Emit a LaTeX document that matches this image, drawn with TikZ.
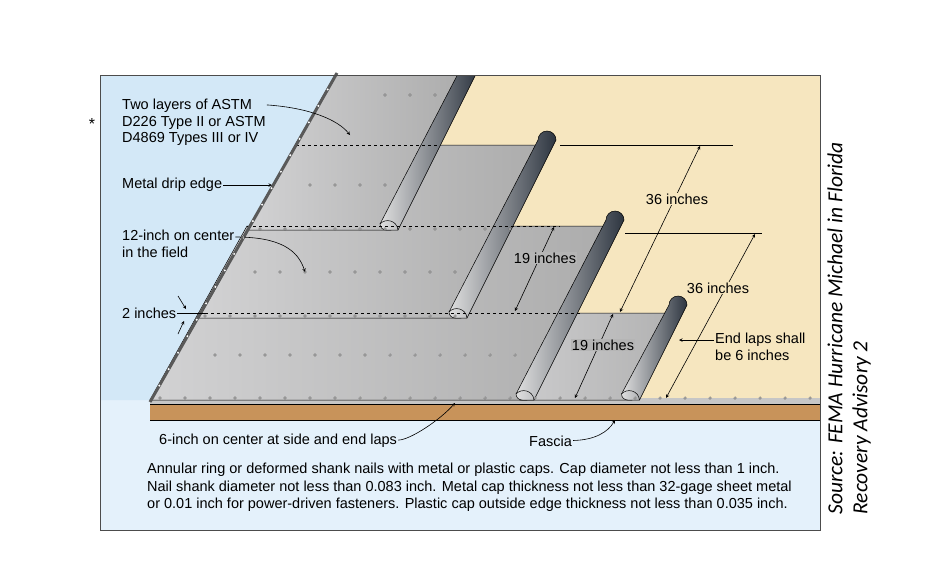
\documentclass[tikz,border=0pt]{standalone}
\usepackage{fontspec}
\setmainfont{Liberation Sans}
\newfontfamily\srcfont{Carlito}
\usetikzlibrary{positioning,calc}
\definecolor{skyblue}{HTML}{d3e8f7}
\definecolor{boxblue}{HTML}{e4f1fb}
\definecolor{deckbeige}{HTML}{f6e6bf}
\definecolor{fasciabrown}{HTML}{c8935a}
\definecolor{feltgray}{HTML}{b4b4b6}
\definecolor{rolldark}{HTML}{2d3540}
\tikzset{
  lbl/.style = {font = \fontsize{14.5}{16.5}\selectfont, inner sep = 1pt},
  dim/.style = {<->, > = stealth, line width = 0.6pt},
  pointer/.style = {->, > = stealth, line width = 0.6pt},
  nail/.style = {draw = gray!60!black, fill = gray!20, line width = 0.3pt}
}
% roll: top x, top y, bottom y (slope 0.5 to the left)
\newcommand{\feltroll}[3]{
  \pgfmathsetmacro{\bx}{#1 - 0.5*(#3 - #2)}
  \shade [left color = gray!25, right color = rolldark, draw = black, line width = 0.5pt]
    (#1 - 9, #2) -- (\bx - 9, #3 - 6) arc (180:90:6) -- (\bx + 9, #3) -- (#1 + 9, #2) arc (0:-180:9) -- cycle;
  \draw [line width = 0.5pt] (\bx - 9, #3 - 6) .. controls (\bx - 4, #3 - 12) and (\bx + 8, #3 - 10) .. (\bx + 9, #3);
}
\begin{document}
\begin{tikzpicture}[x = 1pt, y = -1pt]
  \useasboundingbox (0, 0) rectangle (952, 570);
  % Frame and background
  \fill [boxblue] (100, 75) rectangle (820, 530);
  \fill [skyblue] (100, 75) -- (335, 75) -- (150, 400) -- (100, 400) -- cycle;
  \fill [deckbeige] (335, 75) -- (820, 75) -- (820, 400) -- (150, 400) -- cycle;
  \fill [fasciabrown] (150, 403) rectangle (820, 420);
  \fill [gray!45] (150, 398) rectangle (820, 404);
  \draw [line width = 0.5pt] (150, 404) -- (820, 404) (150, 420) -- (820, 420);
  % Felt sheets, bottom one first
  \shade [left color = feltgray!70, right color = gray!60, draw = black, line width = 0.5pt]
    (540, 313) -- (672, 313) -- (632, 400) -- (520, 400) -- cycle;
  \feltroll{678}{305}{400}
  \shade [left color = feltgray!60, right color = gray!65, draw = black, line width = 0.5pt]
    (247, 226) -- (610, 226) -- (527, 400) -- (150, 400) -- cycle;
  \feltroll{615}{220}{400}
  \shade [left color = feltgray!60, right color = gray!65, draw = black, line width = 0.5pt]
    (296, 145) -- (541, 145) -- (461, 318) -- (199, 318) -- cycle;
  \feltroll{547}{140}{318}
  \shade [left color = feltgray!60, right color = gray!65, draw = black, line width = 0.5pt]
    (335, 75) -- (465, 75) -- (391, 230) -- (247, 230) -- cycle;
  \feltroll{470}{68}{230}
  \fill [white] (100, 40) rectangle (820, 75);
  % Dashed laps
  \draw [dashed, line width = 1pt] (296, 145) -- (440, 145);
  \draw [dashed, line width = 1pt] (247, 226) -- (560, 226);
  \draw [dashed, line width = 1pt] (199, 313) -- (580, 313);
  % Drip edge
  \draw [gray!70!black, line width = 3pt] (337, 73) -- (150, 402);
  \foreach \t in {0.05, 0.1, ..., 0.96}
    \fill [white] ($(337, 73)!\t!(150, 402)$) circle (1.1);
  % Nails
  \foreach \x in {385, 410, 435} \draw [nail] (\x, 95) circle (1.3);
  \foreach \x in {310, 335, 360, 385} \draw [nail] (\x, 185) circle (1.3);
  \foreach \x in {255, 280, ..., 455} \draw [nail] (\x, 272) circle (1.3);
  \foreach \x in {215, 240, ..., 515} \draw [nail] (\x, 355) circle (1.3);
  \foreach \x in {260, 285, ..., 520} \draw [nail] (\x, 229) circle (1.3);
  \foreach \x in {205, 230, ..., 455} \draw [nail] (\x, 316) circle (1.3);
  \foreach \x in {160, 185, ..., 810} \draw [nail] (\x, 398) circle (1.3);
  % Lap extension lines
  \draw [line width = 0.6pt] (560, 145) -- (733, 145);
  \draw [line width = 0.6pt] (625, 233) -- (762, 233);
  % Dimensions
  \coordinate (d1a) at (700, 146); \coordinate (d1b) at (620, 312);
  \coordinate (d2a) at (755, 234); \coordinate (d2b) at (666, 398);
  \coordinate (d3a) at (554, 227); \coordinate (d3b) at (515, 311);
  \coordinate (d4a) at (613, 314); \coordinate (d4b) at (575, 398);
  \draw [dim] (d1a) -- (d1b);
  \draw [dim] (d2a) -- (d2b);
  \draw [dim] (d3a) -- (d3b);
  \draw [dim] (d4a) -- (d4b);
  \node [lbl, fill = deckbeige] (dim1) at (677, 199) {36 inches};
  \node [lbl, fill = deckbeige] (dim2) at (718, 288) {36 inches};
  \node [lbl, fill = gray!58] (dim3) at (545, 258) {19 inches};
  \node [lbl, fill = gray!58] (dim4) at (603, 345) {19 inches};
  % Labels
  \node [lbl, align = left, anchor = north west] (astm) at (121, 98) {Two layers of ASTM\\D226 Type II or ASTM\\D4869 Types III or IV};
  \node [lbl, anchor = west] (drip) at (121, 185) {Metal drip edge};
  \node [lbl, align = left, anchor = north west] (field) at (121, 229) {12-inch on center\\in the field};
  \node [lbl, anchor = west] (two) at (121, 313) {2 inches};
  \node [lbl, anchor = west] (side) at (158, 441) {6-inch on center at side and end laps};
  \node [lbl, anchor = west] (fascia) at (528, 441) {Fascia};
  \node [lbl, align = left, anchor = north west] (endlap) at (714, 332) {End laps shall\\be 6 inches};
  \node [lbl, anchor = north west, align = left, font = \fontsize{14.5}{17.5}\selectfont] (notes) at (146, 462) {Annular ring or deformed shank nails with metal or plastic caps. Cap diameter not less than 1 inch.\\Nail shank diameter not less than 0.083 inch. Metal cap thickness not less than 32-gage sheet metal\\or 0.01 inch for power-driven fasteners. Plastic cap outside edge thickness not less than 0.035 inch.};
  \node [font = \fontsize{16}{18}\selectfont] (star) at (92, 124) {*};
  % Pointers
  \coordinate (astmtip) at (350, 135);
  \coordinate (driptip) at (272, 185);
  \coordinate (fieldtip) at (305, 272);
  \coordinate (sidetip) at (455, 403);
  \coordinate (fasciatip) at (615, 420);
  \coordinate (endtip) at (679, 340);
  \draw [pointer] (astm.north east |- 0, 105) -- (268, 105) .. controls (310, 108) and (338, 120) .. (astmtip);
  \draw [pointer] (drip) -- (driptip);
  \draw [pointer] (field.north east |- 0, 237) .. controls (280, 237) and (298, 250) .. (fieldtip);
  \draw [pointer] (side) .. controls (410, 440) and (440, 420) .. (sidetip);
  \draw [pointer] (fascia) .. controls (595, 440) and (608, 432) .. (fasciatip);
  \draw [pointer] (endlap.west |- 0, 340) -- (endtip);
  \draw [line width = 0.6pt] (two.east) -- (205, 313);
  \draw [pointer] (178, 296) -- (186, 309);
  \draw [pointer] (178, 334) -- (184, 321);
  % Frame border
  \draw [gray!60!black, line width = 0.8pt] (100, 75) rectangle (820, 530);
  % Source
  \node [rotate = 90, anchor = north west, align = left, font = \srcfont\itshape\fontsize{21.5}{25}\selectfont] (src) at (824, 518) {Source: FEMA Hurricane Michael in Florida\\Recovery Advisory 2};
\end{tikzpicture}
\end{document}
